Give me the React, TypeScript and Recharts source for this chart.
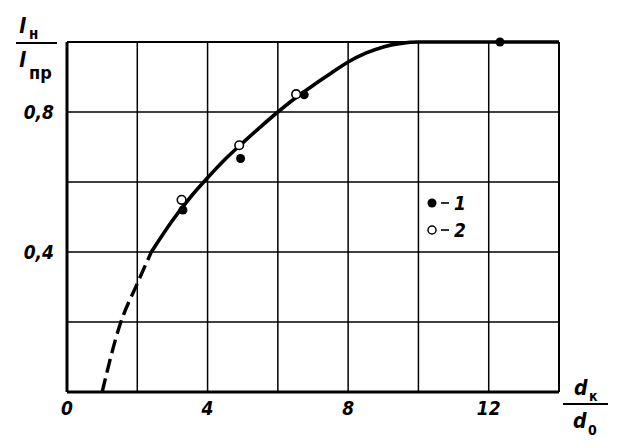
import React from 'react';
import {
  ComposedChart,
  Line,
  Scatter,
  XAxis,
  YAxis,
  CartesianGrid,
  ReferenceLine,
} from 'recharts';

// curve l_н / l_пр against d_к / d_0
const dashedX = [1, 1.5, 2, 2.4];
const dashedY = [0, 0.19, 0.31, 0.4];
const solidX = [2.4, 3, 3.5, 4, 4.5, 5, 5.5, 6, 6.5, 7, 7.5, 8, 8.5, 9, 9.5, 10, 12, 14];
const solidY = [0.4, 0.49, 0.555, 0.612, 0.665, 0.712, 0.757, 0.8, 0.84, 0.876, 0.91, 0.943, 0.968, 0.986, 0.996, 1, 1, 1];

// experiment points, 1 = filled, 2 = open
const set1X = [3.3, 4.94, 6.75, 12.32];
const set1Y = [0.52, 0.667, 0.849, 1.0];
const set2X = [3.26, 4.9, 6.52];
const set2Y = [0.549, 0.705, 0.851];

const xTicks = [0, 2, 4, 6, 8, 10, 12, 14];
const xLabels = ['0', '', '4', '', '8', '', '12', ''];
const yTicks = [0, 0.2, 0.4, 0.6, 0.8, 1];
const yLabels = ['', '', '0,4', '', '0,8', ''];

const zip = (xs: number[], ys: number[]) => xs.map((x, i) => ({ x, y: ys[i] }));

const font = "'DejaVu Sans Condensed', 'Liberation Sans Narrow', sans-serif";
const tickStyle = {
  fontFamily: font,
  fontStyle: 'italic',
  fontWeight: 'bold',
  fontSize: 19,
  fill: '#000',
};

const Filled = (p: any) => <circle cx={p.cx} cy={p.cy} r={4.5} fill="#000" />;
const Open = (p: any) => <circle cx={p.cx} cy={p.cy} r={4.3} fill="#fff" stroke="#000" strokeWidth={1.6} />;

export default function App() {
  return (
    <div style={{ position: 'relative', width: 639, height: 448, background: '#fff' }}>
      <style>{'body{margin:0}'}</style>
      <ComposedChart width={639} height={448} margin={{ top: 42, right: 80, bottom: 26, left: 7 }}>
        <CartesianGrid stroke="#000" strokeWidth={1.5} strokeOpacity={1} />
        <XAxis
          type="number"
          dataKey="x"
          domain={[0, 14]}
          ticks={xTicks}
          tickFormatter={(v: number) => xLabels[xTicks.indexOf(v)] ?? ''}
          axisLine={false}
          tickLine={false}
          tickSize={0}
          tickMargin={10}
          tick={tickStyle}
          height={30}
        />
        <YAxis
          type="number"
          dataKey="y"
          domain={[0, 1]}
          ticks={yTicks}
          tickFormatter={(v: number) => yLabels[yTicks.indexOf(v)] ?? ''}
          axisLine={false}
          tickLine={false}
          tickSize={0}
          tickMargin={13}
          tick={tickStyle}
          width={60}
        />
        <ReferenceLine x={0} stroke="#000" strokeWidth={3} />
        <ReferenceLine y={0} stroke="#000" strokeWidth={3} />
        <ReferenceLine x={14} stroke="#000" strokeWidth={2} />
        <ReferenceLine y={1} stroke="#000" strokeWidth={2} />
        <Line
          data={zip(dashedX, dashedY)}
          dataKey="y"
          type="monotone"
          stroke="#000"
          strokeWidth={3.4}
          strokeDasharray="14 6"
          dot={false}
          isAnimationActive={false}
        />
        <Line
          data={zip(solidX, solidY)}
          dataKey="y"
          type="monotone"
          stroke="#000"
          strokeWidth={3.6}
          dot={false}
          isAnimationActive={false}
        />
        <Scatter data={zip(set1X, set1Y)} dataKey="y" shape={Filled} isAnimationActive={false} />
        <Scatter data={zip(set2X, set2Y)} dataKey="y" shape={Open} isAnimationActive={false} />
      </ComposedChart>

      <svg
        width={639}
        height={448}
        style={{ position: 'absolute', left: 0, top: 0, pointerEvents: 'none' }}
        fontFamily={font}
        fontStyle="italic"
        fontWeight="bold"
      >
        {/* y title */}
        <text x={19} y={33} fontSize={22}>l</text>
        <text x={29} y={39} fontSize={15} fontStyle="normal">н</text>
        <line x1={16} y1={43} x2={57} y2={43} stroke="#000" strokeWidth={2} />
        <text x={19} y={67} fontSize={22}>l</text>
        <text x={29} y={79} fontSize={18} fontStyle="normal">пр</text>

        {/* x title */}
        <text x={574} y={395} fontSize={21}>d</text>
        <text x={589} y={401} fontSize={14} fontStyle="normal">к</text>
        <line x1={563} y1={404} x2={608} y2={404} stroke="#000" strokeWidth={2} />
        <text x={573} y={428} fontSize={21}>d</text>
        <text x={588} y={435} fontSize={14} fontStyle="normal">0</text>

        {/* legend */}
        <circle cx={432} cy={203} r={4.5} fill="#000" />
        <line x1={441} y1={203} x2={449} y2={203} stroke="#000" strokeWidth={1.6} />
        <text x={454} y={210} fontSize={19}>1</text>
        <circle cx={432} cy={230} r={4} fill="#fff" stroke="#000" strokeWidth={1.5} />
        <line x1={441} y1={230} x2={449} y2={230} stroke="#000" strokeWidth={1.6} />
        <text x={454} y={237} fontSize={19}>2</text>
      </svg>
    </div>
  );
}
